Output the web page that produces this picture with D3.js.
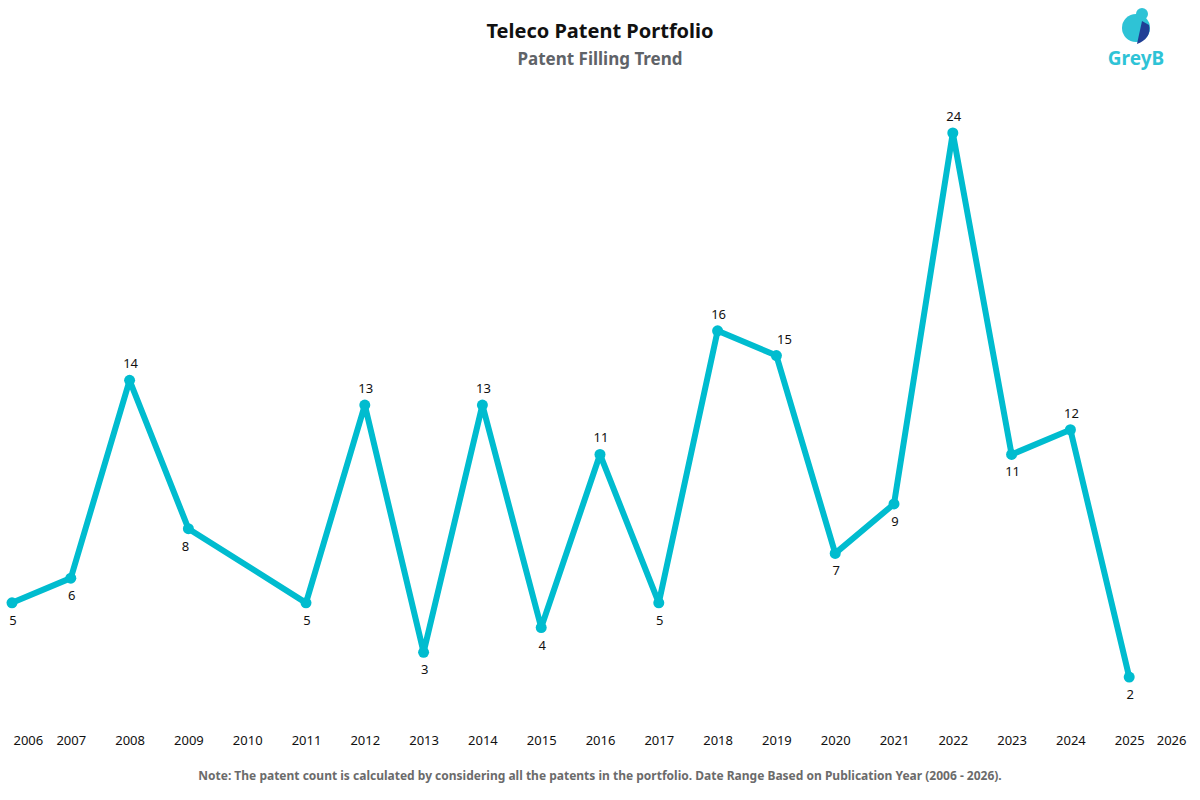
<!DOCTYPE html>
<html>
<head>
<meta charset="utf-8">
<script src="https://cdn.jsdelivr.net/npm/d3@7"></script>
<style>
  body { margin: 0; background: #fff; }
  text { font-family: "Noto Sans", "Open Sans", sans-serif; }
</style>
</head>
<body>
<div id="chart"></div>
<script>
// data
var years = [2006, 2007, 2008, 2009, 2011, 2012, 2013, 2014, 2015, 2016, 2017, 2018, 2019, 2020, 2021, 2022, 2023, 2024, 2025];
var counts = [5, 6, 14, 8, 5, 13, 3, 13, 4, 11, 5, 16, 15, 7, 9, 24, 11, 12, 2];
// label above (1) or below (0) the point
var labelAbove = [0, 0, 1, 0, 0, 1, 0, 1, 0, 1, 0, 1, 1, 0, 0, 1, 0, 1, 0];
var tickYears = d3.range(2006, 2027);

var w = 1200, h = 800;
var teal = "#00bccf";

var svg = d3.select("#chart").append("svg")
  .attr("width", w)
  .attr("height", h);

var x = d3.scaleLinear().domain([2006, 2026]).range([12, 1188]);
var y = d3.scaleLinear().domain([0, 24]).range([726.5, 133]);

var data = years.map(function(d, i){
  return {year: d, count: counts[i], above: labelAbove[i]};
});

// titles
svg.append("text")
  .attr("x", 600).attr("y", 38)
  .attr("text-anchor", "middle")
  .style("font-size", "20px").style("font-weight", "bold")
  .style("fill", "#111")
  .text("Teleco Patent Portfolio");

svg.append("text")
  .attr("x", 600).attr("y", 65)
  .attr("text-anchor", "middle")
  .style("font-size", "17px").style("font-weight", "bold")
  .style("fill", "#5f6368")
  .text("Patent Filling Trend");

// logo
var logo = svg.append("g");
logo.append("circle").attr("cx", 1136).attr("cy", 28).attr("r", 14).attr("fill", "#2ec3d6");
logo.append("circle").attr("cx", 1142).attr("cy", 14).attr("r", 6).attr("fill", "#2ec3d6");
logo.append("path")
  .attr("d", "M1142,21 L1149,25 Q1152,38 1137,44 Z")
  .attr("fill", "#1f3f95");
logo.append("text")
  .attr("x", 1136).attr("y", 65)
  .attr("text-anchor", "middle")
  .style("font-size", "19px").style("font-weight", "bold")
  .style("fill", "#2ec3d6")
  .text("GreyB");

// line
var line = d3.line()
  .x(function(d){ return x(d.year); })
  .y(function(d){ return y(d.count); });

svg.append("path")
  .datum(data)
  .attr("d", line)
  .attr("fill", "none")
  .attr("stroke", teal)
  .attr("stroke-width", 6)
  .attr("stroke-linejoin", "round");

svg.selectAll(".dot")
  .data(data)
  .enter()
  .append("circle")
  .attr("class", "dot")
  .attr("cx", function(d){ return x(d.year); })
  .attr("cy", function(d){ return y(d.count); })
  .attr("r", 5.5)
  .attr("fill", teal);

svg.selectAll(".val")
  .data(data)
  .enter()
  .append("text")
  .attr("class", "val")
  .attr("x", function(d){
    if(d.year == 2019) return x(d.year) + 8;
    if(d.year == 2009) return x(d.year) - 3;
    return x(d.year) + 1;
  })
  .attr("y", function(d){ return d.above ? y(d.count) - 12 : y(d.count) + 22; })
  .attr("text-anchor", "middle")
  .style("font-size", "13px")
  .style("fill", "#111")
  .text(function(d){ return d.count; });

// x axis
var xAxis = d3.axisBottom(x)
  .tickValues(tickYears)
  .tickFormat(d3.format("d"))
  .tickSize(0);

var ax = svg.append("g")
  .attr("transform", "translate(0,733)")
  .call(xAxis);
ax.select(".domain").remove();
ax.selectAll("text")
  .style("font-family", "\"Noto Sans\", sans-serif")
  .style("font-size", "13px")
  .style("fill", "#111");
ax.selectAll(".tick").filter(function(d){ return d == 2006; })
  .select("text").attr("text-anchor", "start").attr("dx", 1);
ax.selectAll(".tick").filter(function(d){ return d == 2026; })
  .select("text").attr("text-anchor", "end").attr("dx", -2);

// note
svg.append("text")
  .attr("x", 600).attr("y", 780)
  .attr("text-anchor", "middle")
  .style("font-size", "12px").style("font-weight", "bold")
  .style("fill", "#6b6b6b")
  .text("Note: The patent count is calculated by considering all the patents in the portfolio. Date Range Based on Publication Year (2006 - 2026).");
</script>
</body>
</html>
